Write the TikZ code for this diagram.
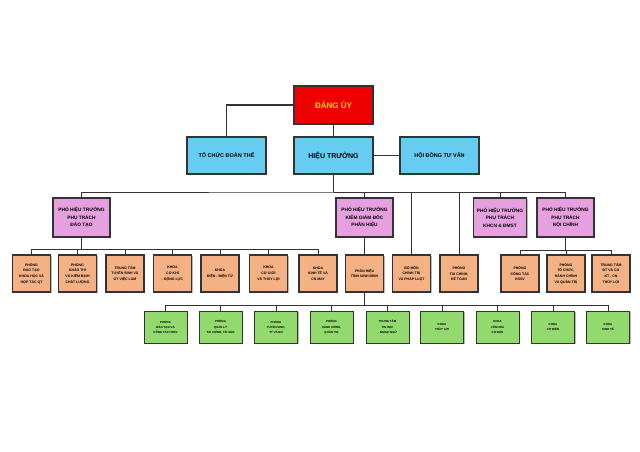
\documentclass[tikz,border=0pt]{standalone}
\usepackage{fontspec}
\setmainfont{Liberation Sans}
\usetikzlibrary{shadows,backgrounds}
\definecolor{cred}{HTML}{EE0000}
\definecolor{cyel}{HTML}{FFD800}
\definecolor{cblue}{HTML}{66CCF2}
\definecolor{cpink}{HTML}{E6A0E0}
\definecolor{corange}{HTML}{F4B183}
\definecolor{cgreen}{HTML}{92D96E}
\definecolor{cline}{HTML}{333333}
\tikzset{
  box/.style={draw=cline, line width=1.1pt, inner sep=0pt, align=center, font=\bfseries,
    drop shadow={shadow xshift=1.2pt, shadow yshift=-1.2pt, fill=black!45, opacity=0.6}},
  topbox/.style={box, fill=cblue, minimum width=79pt, minimum height=37pt},
  redbox/.style={box, fill=cred, text=cyel, minimum width=79pt, minimum height=38pt, font=\bfseries\fontsize{8}{9}\selectfont},
  phtbox/.style={box, fill=cpink, minimum width=57pt, minimum height=39pt, font=\bfseries\fontsize{4.8}{7.5}\selectfont},
  obox/.style={box, fill=corange, minimum width=38pt, minimum height=37pt, font=\bfseries\fontsize{3.5}{5.6}\selectfont},
  gbox/.style={box, fill=cgreen, minimum width=43pt, minimum height=32pt, font=\bfseries\fontsize{2.9}{5.1}\selectfont, line width=0.9pt},
  conn/.style={draw=cline, line width=0.9pt},
  mconn/.style={draw=cline, line width=1.4pt},
}
\begin{document}
\begin{tikzpicture}[x=1pt,y=-1pt]
\useasboundingbox (0,0) rectangle (640,452);
% top
\node[redbox] (du) at (333.5,105) {ĐẢNG ỦY};
\node[topbox, font=\bfseries\fontsize{5.5}{6.5}\selectfont] (tc) at (226.5,155.5) {TỔ CHỨC ĐOÀN THỂ};
\node[topbox, font=\bfseries\fontsize{7}{8}\selectfont] (ht) at (333.5,155.5) {HIỆU TRƯỞNG};
\node[topbox, font=\bfseries\fontsize{5.5}{6.5}\selectfont] (hd) at (439.5,155.5) {HỘI ĐỒNG TƯ VẤN};
% PHT
\node[phtbox] (p1) at (81.5,217.5) {PHÓ HIỆU TRƯỞNG\\PHỤ TRÁCH\\ĐÀO TẠO};
\node[phtbox] (p2) at (364.5,217.5) {PHÓ HIỆU TRƯỞNG\\KIÊM GIÁM ĐỐC\\PHÂN HIỆU};
\node[phtbox, minimum width=53pt] (p3) at (500,217.5) {PHÓ HIỆU TRƯỞNG\\PHỤ TRÁCH\\KHCN \& ĐMST};
\node[phtbox] (p4) at (565.5,217.5) {PHÓ HIỆU TRƯỞNG\\PHỤ TRÁCH\\NỘI CHÍNH};
% orange
\node[obox] (o1) at (31.5,273.5) {PHÒNG\\ĐÀO TẠO\\KHOA HỌC VÀ\\HỢP TÁC QT};
\node[obox] (o2) at (77.5,273.5) {PHÒNG\\KHẢO THÍ\\VÀ KIỂM ĐỊNH\\CHẤT LƯỢNG};
\node[obox] (o3) at (125,273.5) {TRUNG TÂM\\TUYỂN SINH VÀ\\GT VIỆC LÀM};
\node[obox] (o4) at (172.5,273.5) {KHOA\\CƠ KHÍ\\- ĐỘNG LỰC};
\node[obox] (o5) at (220,273.5) {KHOA\\ĐIỆN - ĐIỆN TỬ};
\node[obox] (o6) at (268.5,273.5) {KHOA\\CƠ GIỚI\\VÀ THỦY LỢI};
\node[obox] (o7) at (318,273.5) {KHOA\\KINH TẾ VÀ\\CN MAY};
\node[obox] (o8) at (364.5,273.5) {PHÂN HIỆU\\TỈNH NINH BÌNH};
\node[obox] (o9) at (411.5,273.5) {BỘ MÔN\\CHÍNH TRỊ\\VÀ PHÁP LUẬT};
\node[obox] (o10) at (459,273.5) {PHÒNG\\TÀI CHÍNH,\\KẾ TOÁN};
\node[obox] (o11) at (520,273.5) {PHÒNG\\CÔNG TÁC\\HSSV};
\node[obox] (o12) at (566,273.5) {PHÒNG\\TỔ CHỨC,\\HÀNH CHÍNH\\VÀ QUẢN TRỊ};
\node[obox] (o13) at (611,273.5) {TRUNG TÂM\\ĐT VÀ CG\\KT - CN\\THỦY LỢI};
% green
\node[gbox] (g1) at (165.5,327) {PHÒNG\\ĐÀO TẠO VÀ\\CÔNG TÁC HSSV};
\node[gbox] (g2) at (220.5,327) {PHÒNG\\QUẢN LÝ\\TÀI CHÍNH, TÀI SẢN};
\node[gbox] (g3) at (276,327) {PHÒNG\\TUYỂN SINH,\\TT VÀ ĐN};
\node[gbox] (g4) at (331.5,327) {PHÒNG\\HÀNH CHÍNH,\\QUẢN TRỊ};
\node[gbox] (g5) at (387.5,327) {TRUNG TÂM\\TIN HỌC\\- NGOẠI NGỮ};
\node[gbox] (g6) at (442,327) {KHOA\\THỦY LỢI};
\node[gbox] (g7) at (497.5,327) {KHOA\\VĂN HÓA\\CƠ BẢN};
\node[gbox] (g8) at (553,327) {KHOA\\CƠ ĐIỆN};
\node[gbox] (g9) at (608,327) {KHOA\\KINH TẾ};
% bus coordinates
\coordinate (bus) at (333.5,192);
\coordinate (sub1) at (81.5,249);
\coordinate (sub4) at (565.5,250);
\coordinate (gbus) at (364.5,305);
\begin{scope}[on background layer]
% top connectors
\draw[mconn] (du.west) -| (tc.north);
\draw[mconn] (du.south) -- (ht.north);
\draw[mconn] (ht.east) -- (hd.west);
\draw[conn] (ht.south) -- (bus);
% main bus
\draw[conn] (p1.north) |- (bus) -| (p4.north);
\draw[conn] (bus) -| (p2.north);
\draw[conn] (bus) -| (p3.north);
\draw[conn] (bus) -| (o9.north);
\draw[conn] (bus) -| (o10.north);
% PHT1 sub-bus
\draw[conn] (p1.south) -- (sub1);
\foreach \n in {o1,o2,o3,o4,o5,o6,o7} \draw[conn] (sub1) -| (\n.north);
% PHT2
\draw[conn] (p2.south) -- (o8.north);
\draw[conn] (o8.south) -- (gbus);
\foreach \n in {g1,g2,g3,g4,g5,g6,g7,g8,g9} \draw[conn] (gbus) -| (\n.north);
% PHT4
\draw[conn] (p4.south) -- (sub4);
\foreach \n in {o11,o12,o13} \draw[conn] (sub4) -| (\n.north);
\end{scope}
\end{tikzpicture}
\end{document}
